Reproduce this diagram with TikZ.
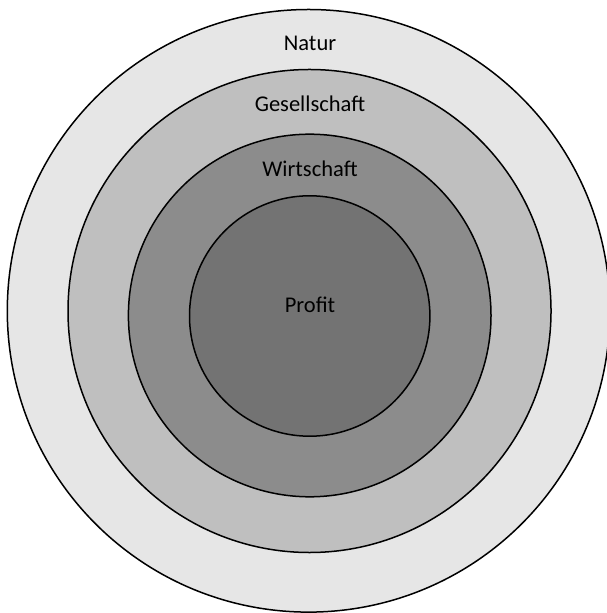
\documentclass[tikz,border=0pt]{standalone}
\usepackage{fontspec}
\setmainfont{Carlito}
\usepackage{xcolor}
\usepackage{tikz}
\usetikzlibrary{shapes}
\usetikzlibrary{positioning}
\definecolor{natur}{HTML}{E6E6E6}
\definecolor{gesell}{HTML}{BFBFBF}
\definecolor{wirt}{HTML}{8C8C8C}
\definecolor{prof}{HTML}{737373}
\tikzstyle{ring} = [circle, draw=black, line width=0.75pt, inner sep=0pt]
\tikzstyle{lbl} = [draw=none, anchor=base, inner sep=0pt, font=\fontsize{11.25}{13}\selectfont]

\begin{document}
\begin{tikzpicture}[x=0.5pt, y=-0.5pt]
\useasboundingbox (0, 0) rectangle (606, 613);
\node [ring, fill=natur, minimum size=301.3pt] (N) at (308.6, 310.8) {};
\node [ring, fill=gesell, minimum size=241.5pt] (G) at (309.5, 311) {};
\node [ring, fill=wirt, minimum size=181.3pt] (W) at (309.7, 315.5) {};
\node [ring, fill=prof, minimum size=120.2pt] (P) at (309.7, 316) {};
\node [lbl] (NL) at (310, 50.5) {Natur};
\node [lbl] (GL) at (310, 112) {Gesellschaft};
\node [lbl] (WL) at (310, 176.5) {Wirtschaft};
\node [lbl] (PL) at (310, 312.7) {Profit};
\end{tikzpicture}
\end{document}
